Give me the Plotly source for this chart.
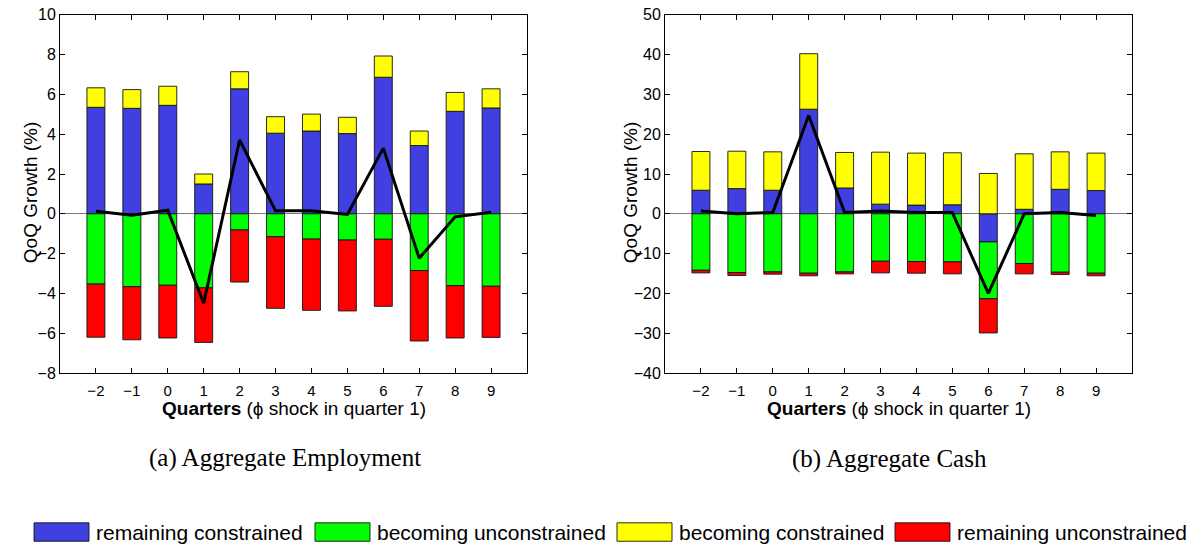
import plotly.graph_objects as go

# Quarters relative to the phi shock
quarters = [-2, -1, 0, 1, 2, 3, 4, 5, 6, 7, 8, 9]
tick_labels = ["\u22122", "\u22121", "0", "1", "2", "3", "4", "5", "6", "7", "8", "9"]

# y-axis ticks for each panel
emp_yticks = [-8, -6, -4, -2, 0, 2, 4, 6, 8, 10]
cash_yticks = [-40, -30, -20, -10, 0, 10, 20, 30, 40, 50]

# Aggregate employment: QoQ growth contributions (%)
emp_remaining_constrained = [5.35, 5.30, 5.45, 1.50, 6.28, 4.05, 4.16, 4.03, 6.86, 3.43, 5.15, 5.32]
emp_becoming_unconstrained = [-3.53, -3.66, -3.59, -3.72, -0.81, -1.15, -1.27, -1.32, -1.28, -2.85, -3.61, -3.64]
emp_becoming_constrained = [0.98, 0.94, 0.96, 0.50, 0.86, 0.83, 0.85, 0.82, 1.07, 0.73, 0.95, 0.96]
emp_remaining_unconstrained = [-2.67, -2.67, -2.65, -2.74, -2.62, -3.60, -3.58, -3.56, -3.37, -3.54, -2.63, -2.57]
emp_net = [0.13, -0.07, 0.18, -4.49, 3.71, 0.15, 0.15, -0.03, 3.30, -2.23, -0.15, 0.08]

# Aggregate cash: QoQ growth contributions (%)
cash_remaining_constrained = [5.92, 6.33, 5.92, 26.28, 6.49, 2.43, 2.19, 2.27, -7.06, 1.14, 6.16, 5.84]
cash_becoming_unconstrained = [-14.19, -14.76, -14.60, -14.92, -14.60, -11.92, -12.00, -12.08, -14.27, -12.49, -14.68, -14.92]
cash_becoming_constrained = [9.73, 9.40, 9.65, 13.95, 8.92, 13.06, 13.06, 13.06, 10.14, 13.94, 9.41, 9.41]
cash_remaining_unconstrained = [-0.65, -0.73, -0.57, -0.65, -0.49, -2.92, -2.92, -3.00, -8.60, -2.60, -0.57, -0.65]
cash_net = [0.73, 0.0, 0.32, 24.7, 0.32, 0.73, 0.3, 0.3, -20.0, 0.0, 0.3, -0.4]

series_names = ["remaining constrained", "becoming unconstrained",
                "becoming constrained", "remaining unconstrained"]
series_colors = ["#4040E0", "#00FF00", "#FFFF00", "#FF0000"]

W, H = 1196, 558
SANS = "Liberation Sans, Arial, Helvetica, sans-serif"
SERIF = "Liberation Serif, Times New Roman, serif"


def px_x(x):
    return x / W


def px_y(y):
    return 1 - y / H


fig = go.Figure()

panels = [
    ("x", "y", [emp_remaining_constrained, emp_becoming_unconstrained,
                emp_becoming_constrained, emp_remaining_unconstrained], emp_net),
    ("x2", "y2", [cash_remaining_constrained, cash_becoming_unconstrained,
                  cash_becoming_constrained, cash_remaining_unconstrained], cash_net),
]

for xa, ya, parts, net in panels:
    for name, color, vals in zip(series_names, series_colors, parts):
        fig.add_trace(go.Bar(
            x=quarters, y=vals, name=name, width=0.5,
            marker=dict(color=color, line=dict(color="rgba(20,20,20,0.9)", width=1)),
            xaxis=xa, yaxis=ya, showlegend=False,
        ))
    fig.add_trace(go.Scatter(
        x=quarters, y=net, mode="lines",
        line=dict(color="black", width=3),
        xaxis=xa, yaxis=ya, showlegend=False,
    ))

axis_common = dict(
    showline=True, linecolor="black", linewidth=1, mirror="ticks",
    ticks="inside", ticklen=5, tickcolor="black", tickwidth=1,
    showgrid=False, ticklabeloverflow="allow",
)
xtick_font = dict(family=SANS, size=15, color="black")
ytick_font = dict(family=SANS, size=16, color="black")

x_dom_a = [px_x(60), px_x(527)]
x_dom_b = [px_x(665), px_x(1132)]
y_dom = [px_y(376.5), px_y(7)]

fig.update_layout(
    width=W, height=H,
    margin=dict(l=0, r=0, t=0, b=0),
    paper_bgcolor="white", plot_bgcolor="white",
    barmode="relative",
    xaxis=dict(domain=x_dom_a, range=[-3, 10], tickvals=quarters, ticktext=tick_labels,
               anchor="y", zeroline=False, ticklabelstandoff=4, tickfont=xtick_font,
               **axis_common),
    yaxis=dict(domain=y_dom, range=[-8, 10], tickvals=emp_yticks, anchor="x",
               zeroline=True, zerolinecolor="#7a7a7a", zerolinewidth=1, tickfont=ytick_font,
               **axis_common),
    xaxis2=dict(domain=x_dom_b, range=[-3, 10], tickvals=quarters, ticktext=tick_labels,
                anchor="y2", zeroline=False, ticklabelstandoff=4, tickfont=xtick_font,
                **axis_common),
    yaxis2=dict(domain=y_dom, range=[-40, 50], tickvals=cash_yticks, anchor="x2",
                zeroline=True, zerolinecolor="#7a7a7a", zerolinewidth=1, tickfont=ytick_font,
                **axis_common),
)

annotations = []
# axis titles
for cx in (30, 630):
    annotations.append(dict(
        x=px_x(cx), y=px_y(191), xref="paper", yref="paper",
        text="QoQ Growth (%)", textangle=-90, showarrow=False,
        font=dict(family=SANS, size=19, color="black"),
        xanchor="center", yanchor="middle",
    ))
for cx in (293.5, 898.5):
    annotations.append(dict(
        x=px_x(cx), y=px_y(413), xref="paper", yref="paper",
        text="<b>Quarters</b> (\u03d5 shock in quarter 1)", showarrow=False,
        font=dict(family=SANS, size=19, color="black"),
        xanchor="center", yanchor="middle",
    ))
# panel captions
annotations.append(dict(
    x=px_x(285), y=px_y(464), xref="paper", yref="paper",
    text="(a) Aggregate Employment", showarrow=False,
    font=dict(family=SERIF, size=25, color="black"), xanchor="center", yanchor="middle",
))
annotations.append(dict(
    x=px_x(889), y=px_y(465), xref="paper", yref="paper",
    text="(b) Aggregate Cash", showarrow=False,
    font=dict(family=SERIF, size=25, color="black"), xanchor="center", yanchor="middle",
))

# shared legend along the bottom
legend_swatch_x = [34, 315, 617, 895]
shapes = []
for sx, name, color in zip(legend_swatch_x, series_names, series_colors):
    shapes.append(dict(
        type="rect", xref="paper", yref="paper",
        x0=px_x(sx), x1=px_x(sx + 55), y0=px_y(550), y1=px_y(531),
        fillcolor=color, line=dict(color="rgba(20,20,20,0.9)", width=1),
    ))
    annotations.append(dict(
        x=px_x(sx + 60), y=px_y(541), xref="paper", yref="paper",
        text=name, showarrow=False,
        font=dict(family=SANS, size=21, color="black"),
        xanchor="left", yanchor="middle",
    ))

fig.update_layout(annotations=annotations, shapes=shapes)

fig.write_html("out.html")
